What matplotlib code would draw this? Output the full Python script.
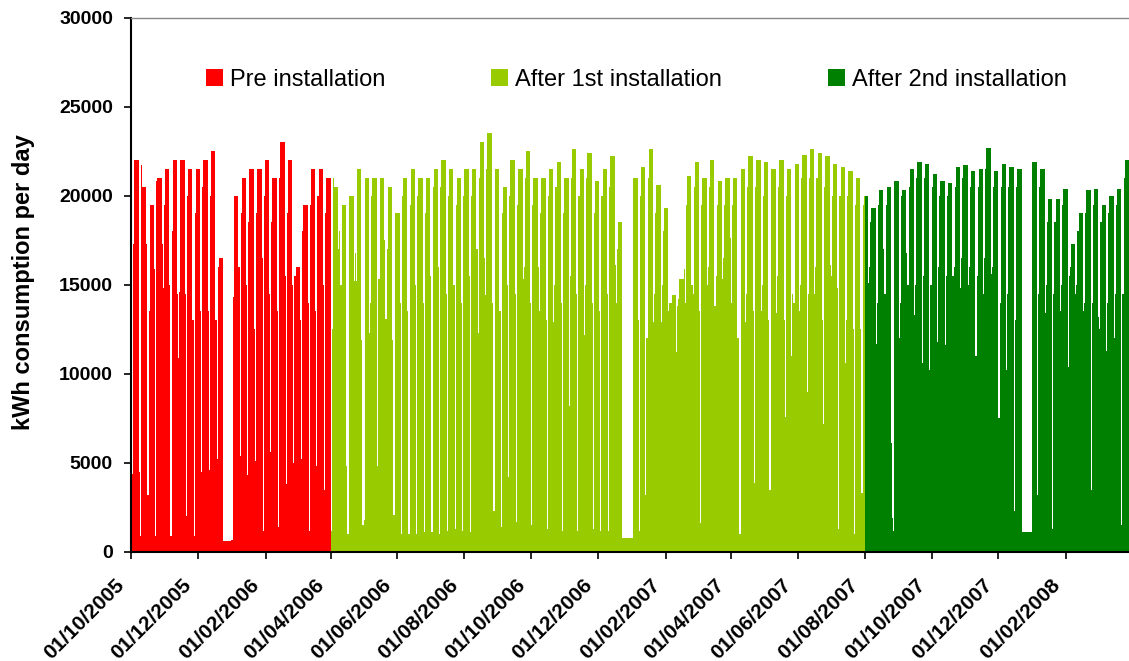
import numpy as np
import pandas as pd
import matplotlib
matplotlib.use("Agg")
import matplotlib.pyplot as plt
import matplotlib.dates as mdates
import matplotlib.transforms as mtransforms
from matplotlib.patches import Patch

plt.rcParams['font.family'] = ['Liberation Sans', 'DejaVu Sans']

# weekly readings, each week runs Saturday..Friday starting Sat 01/10/2005
# Saturday kWh, Sunday kWh, Monday kWh, typical Tue-Fri kWh
pre_sat = [4400, 4500, 17300, 15900, 17300, 15000, 14500, 14500, 13000, 13500,
           13500, 13000, 600, 700, 16000, 15000, 12500, 16500, 14500, 13500,
           15500, 15000, 13000, 14000, 13500, 15000]
pre_sun = [4400, 900, 3200, 900, 14800, 900, 10900, 2000, 900, 4500,
           4600, 5200, 600, 700, 5400, 4300, 5100, 1200, 5600, 1400,
           3800, 5000, 5200, 1200, 4800, 3500]
pre_mon = [17300, 21700, 13500, 20800, 19500, 18000, 14600, 20000, 19000, 20500,
           20000, 16000, 600, 14300, 19000, 18500, 19000, 20000, 18500, 21000,
           19000, 15500, 18000, 19500, 20000, 19000]
pre_wd = [22000, 20500, 19500, 21000, 21500, 22000, 22000, 21500, 21500, 22000,
          22500, 16500, 600, 20000, 21000, 21500, 21500, 22000, 21000, 23000,
          22000, 16000, 19500, 21500, 21500, 21000]

first_sat = [1200, 17000, 4800, 15200, 11900, 12300, 4800, 17500, 11900, 14000,
             13500, 15000, 14000, 15500, 16000, 14500, 15000, 14000, 15500, 17000,
             16500, 14000, 13500, 15000, 14500, 15300, 14000, 16000, 13000, 12900,
             14000, 8200, 14500, 12200, 14000, 13500, 14500, 16100, 800, 800,
             13000, 3200, 12900, 12900, 13500, 11200, 15900, 15000, 13500, 15000,
             13800, 15300, 17600, 12000, 12900, 13500, 13500, 13000, 13400, 13000,
             11000, 13500, 9000, 14500, 13000, 16100, 14800, 10600, 12500]
first_sun = [12500, 18000, 1000, 16800, 1500, 14000, 15300, 13100, 2100, 1000,
             1000, 1000, 1100, 1100, 1000, 1200, 1300, 1200, 1100, 12300,
             14400, 2300, 1400, 4200, 1700, 16000, 1500, 13500, 1300, 15000,
             1200, 15500, 1200, 15000, 1300, 1200, 1200, 14000, 800, 800,
             1200, 12000, 14500, 15000, 14000, 13800, 14000, 14500, 1600, 16000,
             15500, 16500, 14000, 1000, 14500, 3900, 15000, 3500, 15500, 7600,
             14500, 15000, 14500, 16000, 7200, 15500, 1300, 13000, 1000]
first_mon = [21000, 15000, 1000, 15200, 1800, 20000, 15300, 17000, 2100, 20000,
             19500, 20000, 19000, 20500, 20500, 20000, 19500, 20000, 20000, 21000,
             21500, 2300, 19000, 20000, 19500, 21000, 19500, 19000, 20000, 20500,
             19000, 21000, 20000, 21000, 19000, 20000, 20500, 17000, 800, 800,
             20000, 21000, 19000, 18000, 14000, 14200, 19500, 20500, 19500, 20500,
             19500, 19500, 19500, 1000, 20500, 20500, 20000, 3500, 20500, 20000,
             14000, 21000, 21000, 21000, 20500, 20000, 20000, 20000, 19500]
first_wd = [20500, 19500, 20000, 21500, 21000, 21000, 21000, 20500, 19000, 21000,
            21500, 21000, 21000, 21500, 22000, 21500, 21000, 21500, 21500, 23000,
            23500, 21500, 20500, 22000, 21500, 22500, 21000, 21000, 21500, 21900,
            21000, 22600, 21500, 22400, 20800, 21500, 22200, 18500, 800, 21000,
            21600, 22600, 20600, 19300, 14400, 15300, 21100, 21900, 21000, 22000,
            20800, 21000, 21000, 21500, 22200, 22000, 21900, 21500, 22000, 21500,
            21800, 22300, 22600, 22400, 22200, 21800, 21600, 21400, 21000]

second_sat = [12500, 15100, 11700, 17000, 6100, 12000, 16800, 13300, 10600, 10200,
              11800, 11600, 15500, 14800, 15000, 11000, 14500, 15600, 7500, 10200,
              2300, 1100, 1100, 3200, 13400, 1300, 13500, 10400, 14500, 13500,
              3500, 13200, 11300, 12000, 1500, 14500]
second_sun = [3300, 16000, 14000, 14500, 1900, 14000, 15000, 15000, 15500, 15000,
              16000, 15500, 16000, 16500, 16000, 15500, 16500, 16000, 14000, 14500,
              13000, 1100, 1100, 14500, 15000, 14500, 15000, 15500, 15000, 14000,
              14000, 12500, 14000, 14500, 14500, 1500]
second_mon = [19500, 18500, 19500, 19500, 1200, 20000, 20500, 21000, 21000, 20500,
              20000, 20000, 20500, 21000, 20500, 20500, 21500, 20500, 20500, 20500,
              20500, 1100, 1100, 20500, 18500, 18500, 19500, 16000, 18000, 19000,
              19500, 18500, 19000, 19500, 21000, 21000]
second_wd = [20000, 19300, 20300, 20500, 20800, 20300, 21500, 21900, 21800, 21200,
             20800, 20700, 21600, 21700, 21400, 21500, 22700, 21400, 21800, 21600,
             21500, 1100, 21900, 21500, 19800, 19800, 20400, 17300, 19000, 20300,
             20400, 19500, 20000, 20400, 22000, 22000]

periods = ['Pre installation', 'After 1st installation', 'After 2nd installation']
period_start = ['2005-10-01', '2006-04-01', '2007-08-01', '2008-04-01']
colors = ['#ff0000', '#99cc00', '#008000']
tick_dates = pd.date_range('2005-10-01', '2008-02-01', freq='2MS')

sat = pre_sat + first_sat + second_sat
sun = pre_sun + first_sun + second_sun
mon = pre_mon + first_mon + second_mon
wd = pre_wd + first_wd + second_wd

daily = []
for a, b, m, c in zip(sat, sun, mon, wd):
    daily += [a, b, m, c, c, c, c]
n_days = (pd.Timestamp(period_start[-1]) - pd.Timestamp(period_start[0])).days
kwh = np.array(daily[:n_days], dtype=float)
edges = mdates.date2num(pd.date_range(period_start[0], periods=n_days + 1, freq='D'))

fig = plt.figure(figsize=(11.29, 6.61), dpi=100)
ax = fig.add_axes([131 / 1129, 1 - 552 / 661, 998 / 1129, (552 - 17.5) / 661])

for i, label in enumerate(periods):
    i0 = (pd.Timestamp(period_start[i]) - pd.Timestamp(period_start[0])).days
    i1 = (pd.Timestamp(period_start[i + 1]) - pd.Timestamp(period_start[0])).days
    ax.stairs(kwh[i0:i1], edges[i0:i1 + 1], fill=True, color=colors[i], lw=0)

ax.set_xlim(edges[0], edges[0] + 910)
ax.set_ylim(0, 30000)
ax.set_yticks(np.arange(0, 30001, 5000))
ax.set_xticks(mdates.date2num(tick_dates))
ax.set_xticklabels([d.strftime('%d/%m/%Y') for d in tick_dates])

for lab in ax.get_yticklabels():
    lab.set_fontweight('bold')
ax.tick_params(axis='y', direction='out', length=5, width=1.2, pad=8, labelsize=14)
ax.tick_params(axis='x', direction='out', length=5, width=1.2, pad=12, labelsize=15)
shift = mtransforms.ScaledTranslation(-16 / 100, 0, fig.dpi_scale_trans)
for lab in ax.get_xticklabels():
    lab.set_fontweight('bold')
    lab.set_rotation(45)
    lab.set_ha('right')
    lab.set_va('top')
    lab.set_rotation_mode('anchor')
    lab.set_transform(lab.get_transform() + shift)

ax.spines['right'].set_visible(False)
ax.spines['top'].set_color('#888888')
ax.spines['top'].set_linewidth(1.0)
ax.spines['left'].set_linewidth(1.5)
ax.spines['bottom'].set_linewidth(1.5)

ax.set_ylabel('kWh consumption per day', fontsize=17, fontweight='bold')
ax.yaxis.set_label_coords(-0.096, 0.504)

handles = [Patch(facecolor=c, edgecolor='none', label=l) for c, l in zip(colors, periods)]
ax.legend(handles=handles, ncol=3, loc='center left', frameon=False, fontsize=17,
          bbox_to_anchor=(206 / 1129, 1 - 80 / 661), bbox_transform=fig.transFigure,
          borderpad=0, borderaxespad=0, handlelength=0.7, handleheight=0.7,
          handletextpad=0.3, columnspacing=4.5)

fig.savefig('out.png', dpi=100)
